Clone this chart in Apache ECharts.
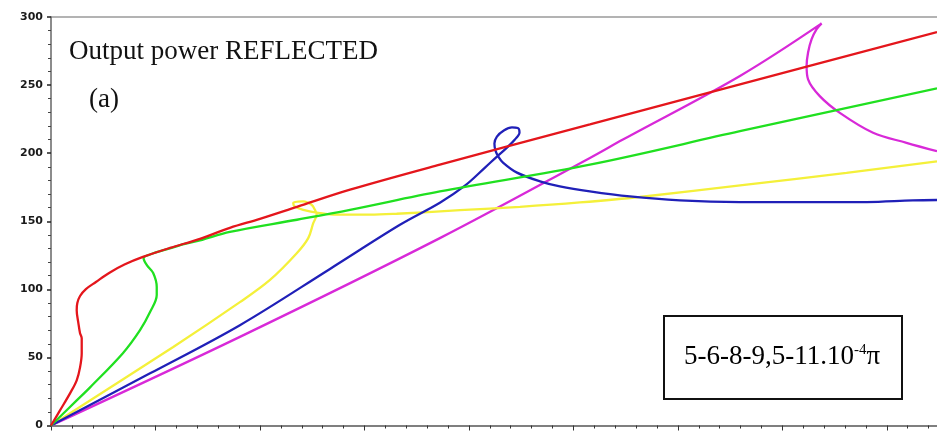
<!DOCTYPE html>
<html>
<head>
<meta charset="utf-8">
<script src="https://cdn.jsdelivr.net/npm/echarts@6/dist/echarts.min.js"></script>
<style>
  html, body { margin: 0; padding: 0; background: #fff; }
  #chart { width: 937px; height: 431px; }
</style>
</head>
<body>
<div id="chart"></div>
<script>
// Reflected output power versus input, five detuning cases (x in arbitrary units)
const yTicks = [0, 50, 100, 150, 200, 250, 300];
const xRange = [0, 424];

const curveRed = [
  [0, 0], [4.3, 11.1], [9.1, 23.6], [12.3, 33.2], [13.9, 42.7], [14.7, 53.1],
  [14.7, 64.1], [13.9, 67.8], [13.1, 75.2], [12.3, 84.7], [12.6, 89.9], [13.9, 95.1],
  [16.7, 100.2], [21.5, 105.4], [28.2, 112.4], [35.4, 118.4], [44, 123.8],
  [56.9, 130.4], [71.3, 137.1], [85.6, 145.2], [100, 151.8], [117.7, 160.6],
  [143.1, 173.2], [186.1, 191.6], [257.9, 221.1], [329.7, 250.6], [424, 288.9]
];

const curveGreen = [
  [0, 0], [12.3, 18.4], [18.7, 28], [34.4, 53.1], [42.6, 70], [47.4, 83.3],
  [50.6, 95.8], [50.6, 101.7], [48.9, 112], [45.8, 117.9], [44.3, 123.1],
  [47.4, 125.6], [56.9, 130.1], [64.1, 133.4], [71.3, 136], [85.6, 142.2],
  [117.7, 151.1], [143.1, 158.4], [186.1, 171.9], [257.9, 191.6],
  [329.7, 216.1], [424, 247.6]
];

const curveYellow = [
  [0, 0], [58.5, 57.7], [90.4, 90.6], [104.8, 106.9], [117.6, 126.5],
  [123.1, 137.6], [125.5, 148.6], [127.1, 154.8], [126.3, 158.4], [124.7, 162.1],
  [120.7, 164.6], [115.9, 163.4], [116.7, 160.9], [120.7, 158.4], [128.7, 156],
  [136.7, 154.8], [152.6, 154.8], [165.4, 155.5], [195.7, 158.1], [224.4, 160.6],
  [253.1, 163.8], [281.8, 167.8], [332.9, 176.9], [380.7, 185.5], [424, 194]
];

const curveBlue = [
  [0, 0], [47.4, 38.3], [90.4, 73.7], [133.5, 115], [167, 147.4], [186.1, 163.6],
  [198.1, 176.1], [207.7, 189.4], [213.4, 197.5], [218.2, 204.1], [222, 210],
  [224.2, 215.2], [223.4, 218.5], [220.6, 218.9], [216.7, 216.7], [213.4, 212.2],
  [212.2, 207.1], [212.7, 201.9], [214.1, 197.5], [216.3, 193.1], [223, 185.7],
  [234, 179.3], [243.5, 175.6], [257.9, 171.9], [277, 168.2], [301, 165.4],
  [329.7, 164.1], [358.4, 164], [390.3, 164.1], [412.4, 165.3], [424, 165.6]
];

const curveMagenta = [
  [0, 0], [90.4, 65.1], [186.1, 137.6], [257.9, 196.5], [273.7, 210],
  [329.7, 256.7], [368.8, 295.3], [366.4, 291.1], [364, 283.7], [362.3, 273.9],
  [361.6, 264], [362.3, 254.2], [367.9, 241.9], [377.5, 229.6], [393.4, 215],
  [409.4, 207.6], [424, 201.4]
];

const titleText = 'Output power REFLECTED';
const panelText = '(a)';
const boxMain = '5-6-8-9,5-11.10';
const boxSup = '-4';
const boxTail = 'π';

function curve(data, color) {
  return {
    type: 'line',
    data: data,
    showSymbol: false,
    smooth: 0.35,
    lineStyle: { color: color, width: 2.3 },
    silent: true,
    animation: false
  };
}

const chart = echarts.init(document.getElementById('chart'), null, { renderer: 'canvas' });

chart.setOption({
  animation: false,
  backgroundColor: '#ffffff',
  grid: { left: 51, top: 17, right: 0, height: 409, show: false },
  xAxis: {
    type: 'value', min: xRange[0], max: xRange[1], interval: 50,
    axisLine: { show: true, onZero: false, lineStyle: { color: '#555', width: 1.5 } },
    axisTick: { show: true, inside: false, length: 5, lineStyle: { color: '#333' } },
    minorTick: { show: true, splitNumber: 5, length: 3, lineStyle: { color: '#333' } },
    axisLabel: { show: false },
    splitLine: { show: false }
  },
  yAxis: {
    type: 'value', min: yTicks[0], max: yTicks[yTicks.length - 1], interval: 50,
    axisLine: { show: true, onZero: false, lineStyle: { color: '#666', width: 1.5 } },
    axisTick: { show: true, inside: false, length: 4, lineStyle: { color: '#222', width: 1.5 } },
    minorTick: { show: true, splitNumber: 5, length: 3, lineStyle: { color: '#444' } },
    axisLabel: {
      show: true, margin: 8, color: '#1a1a1a',
      fontFamily: 'DejaVu Sans', fontWeight: 'bold', fontSize: 11
    },
    splitLine: { show: false }
  },
  series: [
    curve(curveMagenta, '#d829d8'),
    curve(curveYellow, '#f4f03a'),
    curve(curveBlue, '#2020b8'),
    curve(curveGreen, '#20e020'),
    curve(curveRed, '#e4161c')
  ],
  graphic: [
    {
      // frame line along the top of the plotting area
      type: 'line', silent: true,
      shape: { x1: 51, y1: 17, x2: 937, y2: 17 },
      style: { stroke: '#9a9a9a', lineWidth: 1.5 }
    },
    {
      type: 'text', left: 69, top: 38, silent: true,
      style: {
        text: titleText, fill: '#111',
        font: '27px "Liberation Serif", "Times New Roman", serif'
      }
    },
    {
      type: 'text', left: 89, top: 86, silent: true,
      style: {
        text: panelText, fill: '#111',
        font: '27px "Liberation Serif", "Times New Roman", serif'
      }
    },
    {
      type: 'rect', silent: true,
      shape: { x: 664, y: 316, width: 238, height: 83 },
      style: { fill: '#fff', stroke: '#111', lineWidth: 2 }
    },
    {
      type: 'text', x: 782, y: 357, silent: true,
      style: {
        text: '{n|' + boxMain + '}{s|' + boxSup + '}{n|' + boxTail + '}',
        align: 'center', verticalAlign: 'middle',
        rich: {
          n: { fontFamily: '"Liberation Serif", serif', fontSize: 27, color: '#111', verticalAlign: 'middle', lineHeight: 28 },
          s: { fontFamily: '"Liberation Serif", serif', fontSize: 15, color: '#111', verticalAlign: 'top', lineHeight: 28 }
        }
      }
    }
  ]
});
</script>
</body>
</html>
